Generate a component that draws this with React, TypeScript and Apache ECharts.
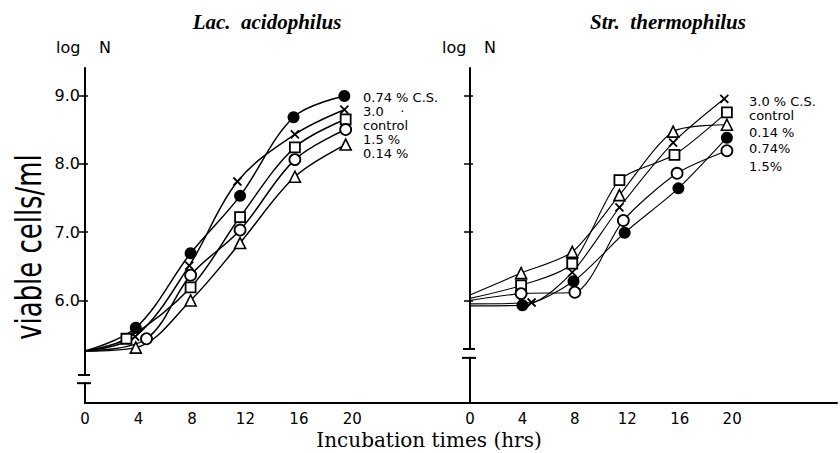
import React, { useEffect, useRef } from "react";
import * as echarts from "echarts";

// ---- Data ----
const xTickLabels = [0, 4, 8, 12, 16, 20];
const yTickValues = [6, 7, 8, 9];

// Lac. acidophilus panel: [hours, log N]
const lacCS074 = [[0, 5.26], [3.8, 5.6], [7.9, 6.69], [11.6, 7.53], [15.6, 8.68], [19.4, 8.99]];
const lacCS30 = [[0, 5.26], [3.75, 5.47], [7.8, 6.51], [11.4, 7.74], [15.7, 8.43], [19.4, 8.79]];
const lacControl = [[0, 5.26], [3.1, 5.44], [7.9, 6.19], [11.6, 7.22], [15.7, 8.24], [19.5, 8.65]];
const lacCS15 = [[0, 5.26], [4.6, 5.44], [7.9, 6.37], [11.6, 7.03], [15.7, 8.06], [19.5, 8.5]];
const lacCS014 = [[0, 5.26], [3.8, 5.31], [7.9, 6.0], [11.6, 6.84], [15.7, 7.81], [19.5, 8.28]];

// Str. thermophilus panel: [hours, log N]
const strCS30 = [[0, 5.95], [4.7, 5.97], [7.8, 6.41], [11.4, 7.36], [15.5, 8.31], [19.4, 8.95]];
const strControl = [[0, 6.03], [3.9, 6.22], [7.8, 6.54], [11.4, 7.76], [15.6, 8.13], [19.6, 8.75]];
const strCS014 = [[0, 6.08], [3.9, 6.4], [7.8, 6.71], [11.4, 7.54], [15.5, 8.47], [19.6, 8.57]];
const strCS074 = [[0, 5.92], [4.0, 5.93], [7.9, 6.28], [11.8, 6.99], [15.9, 7.64], [19.6, 8.38]];
const strCS15 = [[0, 6.0], [3.9, 6.1], [8.0, 6.12], [11.7, 7.17], [15.8, 7.86], [19.6, 8.19]];

const lacLabels = ["0.74 % C.S.", "3.0    ·", "control", "1.5 %", "0.14 %"];
const strLabels = ["3.0 % C.S.", "control", "0.14 %", "0.74%", "1.5%"];

const titles = ["Lac.  acidophilus", "Str.  thermophilus"];
const yTitle = "viable cells/ml";
const xTitle = "Incubation times (hrs)";

// ---- Styles ----
const SANS = "DejaVu Sans";
const crossPath = "path://M0,0L10,10M10,0L0,10";
const markers: Record<string, any> = {
  filled: { symbol: "circle", symbolSize: 12, itemStyle: { color: "#000", borderColor: "#000", borderWidth: 0 } },
  open: { symbol: "circle", symbolSize: 11, itemStyle: { color: "#fff", borderColor: "#000", borderWidth: 1.8 } },
  square: { symbol: "rect", symbolSize: 10, itemStyle: { color: "#fff", borderColor: "#000", borderWidth: 1.8 } },
  tri: { symbol: "triangle", symbolSize: 11, itemStyle: { color: "#fff", borderColor: "#000", borderWidth: 1.6 } },
  cross: { symbol: crossPath, symbolSize: 8, itemStyle: { color: "#000", borderColor: "#000", borderWidth: 1.8 } },
};

function mk(name: string, data: number[][], idx: number, marker: string, width: number, smooth: number) {
  const m = markers[marker];
  return {
    type: "line",
    name,
    xAxisIndex: idx,
    yAxisIndex: idx * 2,
    smooth,
    symbol: m.symbol,
    symbolSize: m.symbolSize,
    itemStyle: m.itemStyle,
    lineStyle: { color: "#000", width },
    data: data.map((p, i) => (i === 0 ? { value: p, symbol: "none" } : p)),
    z: 3,
  };
}

export default function App() {
  const ref = useRef<HTMLDivElement>(null);
  useEffect(() => {
    if (!ref.current) return;
    const chart = echarts.init(ref.current, undefined, { renderer: "svg" });

    const xAxisCommon = (gridIndex: number, max: number) => ({
      type: "value",
      gridIndex,
      min: 0,
      max,
      interval: 4,
      splitLine: { show: false },
      axisTick: { show: false },
      axisLine: { show: true, lineStyle: { color: "#000", width: 2 } },
      axisLabel: {
        color: "#000",
        fontSize: 15,
        fontFamily: SANS,
        margin: 8,
        customValues: xTickLabels,
        formatter: (v: number) => String(v),
      },
    });

    const yAxisMain = (gridIndex: number, showLabels: boolean) => ({
      type: "value",
      gridIndex,
      min: 4.5,
      max: 9.4,
      splitLine: { show: false },
      axisLine: { show: true, lineStyle: { color: "#000", width: 2 } },
      axisTick: { show: true, length: 6, customValues: yTickValues, lineStyle: { color: "#000", width: 1.5 } },
      axisLabel: {
        show: showLabels,
        color: "#000",
        fontSize: 16,
        fontFamily: SANS,
        margin: 5,
        customValues: yTickValues,
        formatter: (v: number) => v.toFixed(1),
      },
    });
    const yAxisInner = (gridIndex: number) => ({
      type: "value",
      gridIndex,
      min: 4.5,
      max: 9.4,
      position: "left",
      splitLine: { show: false },
      axisLine: { show: false },
      axisLabel: { show: false },
      axisTick: { show: true, inside: true, length: 3, customValues: yTickValues, lineStyle: { color: "#000", width: 1.5 } },
    });

    const option: any = {
      animation: false,
      textStyle: { fontFamily: SANS },
      grid: [
        { left: 85, top: 68, width: 385, height: 335 },
        { left: 470, top: 68, width: 367, height: 335 },
      ],
      xAxis: [xAxisCommon(0, 28.8), xAxisCommon(1, 28)],
      yAxis: [yAxisMain(0, true), yAxisInner(0), yAxisMain(1, false), yAxisInner(1)],
      series: [
        mk(lacLabels[0], lacCS074, 0, "filled", 1.5, 0.35),
        mk(lacLabels[1], lacCS30, 0, "cross", 1.5, 0.35),
        mk(lacLabels[2], lacControl, 0, "square", 1.5, 0.35),
        mk(lacLabels[3], lacCS15, 0, "open", 1.5, 0.35),
        mk(lacLabels[4], lacCS014, 0, "tri", 1.5, 0.35),
        mk(strLabels[0], strCS30, 1, "cross", 1.1, 0.25),
        mk(strLabels[1], strControl, 1, "square", 1.1, 0.25),
        mk(strLabels[2], strCS014, 1, "tri", 1.1, 0.25),
        mk(strLabels[3], strCS074, 1, "filled", 1.1, 0.25),
        mk(strLabels[4], strCS15, 1, "open", 1.1, 0.25),
      ],
    };
    chart.setOption(option);

    // axis break decorations, positioned through the axes
    const breakMarks = (axisIdx: number, hi: number, lo: number) => {
      const pHi = chart.convertToPixel({ xAxisIndex: axisIdx, yAxisIndex: axisIdx * 2 }, [0, hi]) as number[];
      const pLo = chart.convertToPixel({ xAxisIndex: axisIdx, yAxisIndex: axisIdx * 2 }, [0, lo]) as number[];
      const ax = pHi[0];
      return [
        { type: "rect", z: 100, shape: { x: ax - 3, y: pHi[1] + 1, width: 6, height: pLo[1] - pHi[1] - 2 }, style: { fill: "#fff" } },
        { type: "line", z: 101, shape: { x1: ax - 7, y1: pHi[1], x2: ax + 5, y2: pHi[1] }, style: { stroke: "#000", lineWidth: 2 } },
        { type: "line", z: 101, shape: { x1: ax - 8, y1: pLo[1], x2: ax + 6, y2: pLo[1] }, style: { stroke: "#000", lineWidth: 2 } },
      ];
    };

    const txt = (x: number, y: number, text: string, extra: any = {}) => ({
      type: "text",
      x,
      y,
      z: 110,
      style: { text, fill: "#000", fontFamily: SANS, fontSize: 15, verticalAlign: "middle", align: "left", ...extra },
    });

    const lacLabelY = [97, 111, 125, 139, 153];
    const strLabelY = [101, 115, 132, 148, 166];
    const legendStyle = { fontSize: 13, lineHeight: 13 };

    const graphic: any[] = [
      ...breakMarks(0, 4.91, 4.79),
      ...breakMarks(1, 5.29, 5.16),
      txt(267, 22, titles[0], { fontFamily: "Liberation Serif", fontStyle: "italic", fontWeight: "bold", fontSize: 21, align: "center" }),
      txt(668, 22, titles[1], { fontFamily: "Liberation Serif", fontStyle: "italic", fontWeight: "bold", fontSize: 21, align: "center" }),
      txt(56, 47, "log", { fontSize: 16 }),
      txt(99, 47, "N", { fontSize: 16 }),
      txt(442, 47, "log", { fontSize: 16 }),
      txt(484, 47, "N", { fontSize: 16 }),
      {
        type: "text",
        x: 28,
        y: 247,
        rotation: Math.PI / 2,
        scaleX: 0.72,
        z: 110,
        style: { text: yTitle, fill: "#000", fontFamily: SANS, fontSize: 36, align: "center", verticalAlign: "middle" },
      },
      txt(429, 440, xTitle, { fontFamily: "DejaVu Serif", fontSize: 20, lineHeight: 20, align: "center" }),
      ...lacLabels.map((t, i) => txt(363, lacLabelY[i], t, legendStyle)),
      ...strLabels.map((t, i) => txt(749, strLabelY[i], t, legendStyle)),
    ];
    chart.setOption({ graphic });

    return () => chart.dispose();
  }, []);
  return <div ref={ref} style={{ position: "absolute", left: 0, top: 0, width: 840, height: 453 }} />;
}
